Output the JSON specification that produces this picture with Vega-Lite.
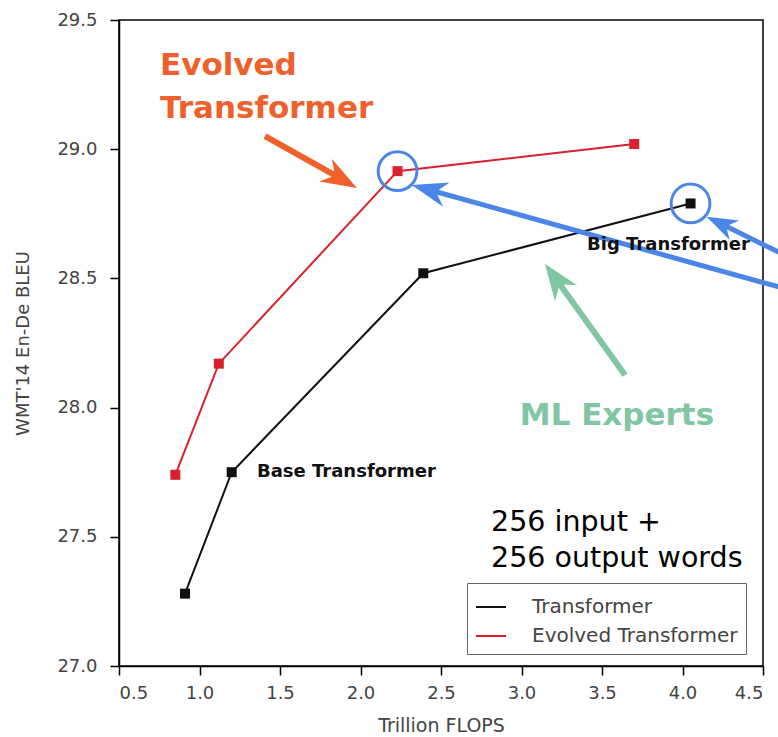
{
  "$schema": "https://vega.github.io/schema/vega-lite/v6.json",
  "autosize": {"type": "none"},
  "padding": {"left": 119, "top": 20, "right": 15, "bottom": 71},
  "width": 644,
  "height": 646,
  "background": "white",
  "config": {
    "font": "DejaVu Sans",
    "view": {"stroke": "black", "strokeWidth": 1.5},
    "axis": {
      "grid": false,
      "domainColor": "black",
      "domainWidth": 1.5,
      "tickColor": "black",
      "tickWidth": 1.5,
      "tickSize": 9,
      "labelFont": "DejaVu Sans",
      "labelFontSize": 18,
      "labelColor": "#444",
      "titleFont": "DejaVu Sans",
      "titleFontSize": 18,
      "titleFontWeight": "normal",
      "titleColor": "#444"
    }
  },
  "layer": [
    {
      "data": {"values": [
        {"series": "Transformer", "flops": 0.91, "bleu": 27.28},
        {"series": "Transformer", "flops": 1.2, "bleu": 27.75},
        {"series": "Transformer", "flops": 2.39, "bleu": 28.52},
        {"series": "Transformer", "flops": 4.05, "bleu": 28.79},
        {"series": "Evolved Transformer", "flops": 0.85, "bleu": 27.74},
        {"series": "Evolved Transformer", "flops": 1.12, "bleu": 28.17},
        {"series": "Evolved Transformer", "flops": 2.23, "bleu": 28.915},
        {"series": "Evolved Transformer", "flops": 3.7, "bleu": 29.02}
      ]},
      "layer": [
        {
          "mark": {"type": "line", "strokeWidth": 2},
          "encoding": {
            "x": {"field": "flops", "type": "quantitative",
              "scale": {"domain": [0.5, 4.5], "nice": false, "zero": false},
              "axis": {"values": [0.5, 1.0, 1.5, 2.0, 2.5, 3.0, 3.5, 4.0, 4.5], "format": ".1f", "labelPadding": 9, "title": "Trillion FLOPS", "titlePadding": 14, "titleFontSize": 19}},
            "y": {"field": "bleu", "type": "quantitative",
              "scale": {"domain": [27.0, 29.5], "nice": false, "zero": false},
              "axis": {"values": [27.0, 27.5, 28.0, 28.5, 29.0, 29.5], "format": ".1f", "labelPadding": 13, "title": "WMT'14 En-De BLEU", "titlePadding": 24}},
            "color": {"field": "series", "type": "nominal",
              "scale": {"domain": ["Transformer", "Evolved Transformer"], "range": ["#111111", "#d8202e"]},
              "legend": {
                "orient": "none", "legendX": 348, "legendY": 563, "title": null,
                "direction": "vertical",
                "symbolType": "stroke", "symbolStrokeWidth": 2, "symbolSize": 900,
                "labelFont": "DejaVu Sans", "labelFontSize": 20, "labelColor": "#444", "labelLimit": 400,
                "labelOffset": 25, "rowPadding": 3,
                "strokeColor": "#666", "fillColor": "white", "padding": 8, "cornerRadius": 0
              }},
            "order": {"field": "flops", "type": "quantitative"}
          }
        },
        {
          "mark": {"type": "point", "shape": "square", "filled": true, "size": 100, "opacity": 1},
          "encoding": {
            "x": {"field": "flops", "type": "quantitative"},
            "y": {"field": "bleu", "type": "quantitative"},
            "color": {"field": "series", "type": "nominal", "legend": null,
              "scale": {"domain": ["Transformer", "Evolved Transformer"], "range": ["#111111", "#f42127"]}}
          }
        }
      ]
    },
    {
      "data": {"values": [
        {"x": 2.23, "y": 28.915},
        {"x": 4.05, "y": 28.79}
      ]},
      "mark": {"type": "point", "shape": "circle", "filled": false, "size": 1500, "stroke": "#4a86e8", "strokeWidth": 3, "opacity": 1},
      "encoding": {
        "x": {"field": "x", "type": "quantitative"},
        "y": {"field": "y", "type": "quantitative"}
      }
    },
    {
      "data": {"values": [{"x": 1.407, "y": 29.051, "x2": 1.898, "y2": 28.879}]},
      "mark": {"type": "rule", "color": "#f0602a", "strokeWidth": 6, "strokeCap": "butt"},
      "encoding": {"x": {"field": "x", "type": "quantitative"}, "y": {"field": "y", "type": "quantitative"}, "x2": {"field": "x2"}, "y2": {"field": "y2"}}
    },
    {
      "data": {"values": [{"x": 1.978, "y": 28.85}]},
      "mark": {"type": "point", "shape": "M0,0 L0.36,1 L0,0.7 L-0.36,1 Z", "filled": true, "color": "#f0602a", "size": 5184, "angle": 119.5, "opacity": 1},
      "encoding": {"x": {"field": "x", "type": "quantitative"}, "y": {"field": "y", "type": "quantitative"}}
    },
    {
      "data": {"values": [{"x": 3.643, "y": 28.126, "x2": 3.201, "y2": 28.509}]},
      "mark": {"type": "rule", "color": "#80c6a2", "strokeWidth": 6, "strokeCap": "butt"},
      "encoding": {"x": {"field": "x", "type": "quantitative"}, "y": {"field": "y", "type": "quantitative"}, "x2": {"field": "x2"}, "y2": {"field": "y2"}}
    },
    {
      "data": {"values": [{"x": 3.146, "y": 28.556}]},
      "mark": {"type": "point", "shape": "M0,0 L0.38,1 L0,0.7 L-0.38,1 Z", "filled": true, "color": "#80c6a2", "size": 5184, "angle": -35.8, "opacity": 1},
      "encoding": {"x": {"field": "x", "type": "quantitative"}, "y": {"field": "y", "type": "quantitative"}}
    },
    {
      "data": {"values": [
        {"x": 4.668, "y": 28.455, "x2": 2.408, "y2": 28.846},
        {"x": 4.668, "y": 28.58, "x2": 4.234, "y2": 28.713}
      ]},
      "mark": {"type": "rule", "color": "#4a86e8", "strokeWidth": 5, "strokeCap": "butt"},
      "encoding": {"x": {"field": "x", "type": "quantitative"}, "y": {"field": "y", "type": "quantitative"}, "x2": {"field": "x2"}, "y2": {"field": "y2"}}
    },
    {
      "data": {"values": [{"x": 2.318, "y": 28.861}]},
      "mark": {"type": "point", "shape": "M0,0 L0.35,1 L0,0.7 L-0.35,1 Z", "filled": true, "color": "#4a86e8", "size": 5184, "angle": -74.8, "opacity": 1},
      "encoding": {"x": {"field": "x", "type": "quantitative"}, "y": {"field": "y", "type": "quantitative"}}
    },
    {
      "data": {"values": [{"x": 4.15, "y": 28.739}]},
      "mark": {"type": "point", "shape": "M0,0 L0.35,1 L0,0.7 L-0.35,1 Z", "filled": true, "color": "#4a86e8", "size": 3844, "angle": -63.8, "opacity": 1},
      "encoding": {"x": {"field": "x", "type": "quantitative"}, "y": {"field": "y", "type": "quantitative"}}
    },
    {
      "data": {"values": [
        {"label": "Base Transformer", "x": 1.357, "y": 27.751},
        {"label": "Big Transformer", "x": 3.407, "y": 28.629}
      ]},
      "mark": {"type": "text", "align": "left", "baseline": "middle", "font": "DejaVu Sans", "fontWeight": "bold", "fontSize": 18, "color": "#111"},
      "encoding": {"x": {"field": "x", "type": "quantitative"}, "y": {"field": "y", "type": "quantitative"}, "text": {"field": "label"}}
    },
    {
      "data": {"values": [
        {"label": "Evolved", "x": 0.755, "y": 29.322},
        {"label": "Transformer", "x": 0.755, "y": 29.156}
      ]},
      "mark": {"type": "text", "align": "left", "baseline": "middle", "font": "DejaVu Sans", "fontWeight": "bold", "fontSize": 31, "color": "#f0602a"},
      "encoding": {"x": {"field": "x", "type": "quantitative"}, "y": {"field": "y", "type": "quantitative"}, "text": {"field": "label"}}
    },
    {
      "data": {"values": [{"label": "ML Experts", "x": 3.593, "y": 27.967}]},
      "mark": {"type": "text", "align": "center", "baseline": "middle", "font": "DejaVu Sans", "fontWeight": "bold", "fontSize": 31, "color": "#80c6a2"},
      "encoding": {"x": {"field": "x", "type": "quantitative"}, "y": {"field": "y", "type": "quantitative"}, "text": {"field": "label"}}
    },
    {
      "data": {"values": [
        {"label": "256 input +", "x": 2.811, "y": 27.557},
        {"label": "256 output words", "x": 2.811, "y": 27.418}
      ]},
      "mark": {"type": "text", "align": "left", "baseline": "middle", "font": "DejaVu Sans", "fontSize": 28.5, "color": "#000"},
      "encoding": {"x": {"field": "x", "type": "quantitative"}, "y": {"field": "y", "type": "quantitative"}, "text": {"field": "label"}}
    }
  ]
}
